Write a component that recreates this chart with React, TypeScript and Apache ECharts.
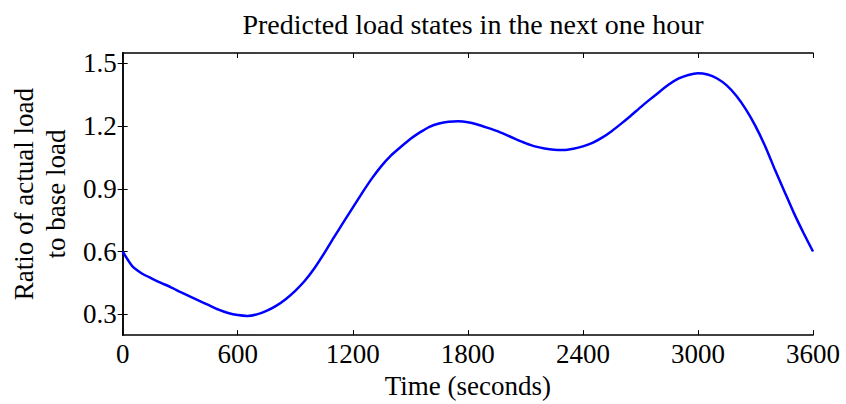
import React, { useEffect, useRef } from "react";
import * as echarts from "echarts";

const times: number[] = [
  0, 50, 100, 150, 200, 250, 300, 350, 400, 450, 500, 550, 600, 650, 700, 750,
  800, 850, 900, 950, 1000, 1050, 1100, 1150, 1200, 1250, 1300, 1350, 1400,
  1450, 1500, 1550, 1600, 1650, 1700, 1750, 1800, 1850, 1900, 1950, 2000, 2050,
  2100, 2150, 2200, 2250, 2300, 2350, 2400, 2450, 2500, 2550, 2600, 2650, 2700,
  2750, 2800, 2850, 2900, 2950, 3000, 3050, 3100, 3150, 3200, 3250, 3300, 3350,
  3400, 3450, 3500, 3550, 3600,
];

const loadRatio: number[] = [
  0.6, 0.53, 0.495, 0.472, 0.45, 0.43, 0.407, 0.385, 0.364, 0.343, 0.322, 0.306,
  0.296, 0.292, 0.299, 0.316, 0.34, 0.372, 0.412, 0.46, 0.52, 0.59, 0.665, 0.738,
  0.81, 0.882, 0.95, 1.01, 1.06, 1.1, 1.138, 1.17, 1.197, 1.213, 1.221, 1.223,
  1.219, 1.208, 1.193, 1.177, 1.158, 1.138, 1.119, 1.103, 1.093, 1.087, 1.086,
  1.092, 1.103, 1.12, 1.145, 1.176, 1.212, 1.25, 1.29, 1.328, 1.365, 1.4,
  1.428, 1.445, 1.453, 1.447, 1.428, 1.395, 1.345, 1.28, 1.2, 1.105, 0.995,
  0.89, 0.785, 0.69, 0.6,
];

const yTicks: number[] = [0.3, 0.6, 0.9, 1.2, 1.5];
const titleText = "Predicted load states in the next one hour";
const xName = "Time (seconds)";
const yName = "Ratio of actual load\nto base load";

const FONT = "'Liberation Serif', 'Times New Roman', serif";

export default function App() {
  const ref = useRef<HTMLDivElement>(null);

  useEffect(() => {
    if (!ref.current) return;
    const chart = echarts.init(ref.current, undefined, { renderer: "svg" });
    const axisLine = { show: true, lineStyle: { color: "#000", width: 1.5 } };
    const tick = { show: true, inside: true, length: 5, lineStyle: { color: "#000", width: 1 } };
    chart.setOption({
      animation: false,
      backgroundColor: "#fff",
      textStyle: { fontFamily: FONT },
      title: {
        text: titleText,
        left: 468,
        textAlign: "center",
        top: 5,
        textStyle: { fontFamily: FONT, fontSize: 28, fontWeight: "normal", color: "#000" },
      },
      grid: { left: 122, right: 33, top: 53, bottom: 65, containLabel: false },
      xAxis: [
        {
          type: "value",
          min: 0,
          max: 3600,
          interval: 600,
          position: "bottom",
          axisLine,
          axisTick: tick,
          splitLine: { show: false },
          axisLabel: {
            fontFamily: FONT,
            fontSize: 27,
            color: "#000",
            margin: 5,
            formatter: (v: number) => String(v),
          },
          name: xName,
          nameLocation: "middle",
          nameGap: 33,
          nameTextStyle: { fontFamily: FONT, fontSize: 27, color: "#000" },
        },
        {
          type: "value",
          min: 0,
          max: 3600,
          interval: 600,
          position: "top",
          axisLine,
          axisTick: tick,
          splitLine: { show: false },
          axisLabel: { show: false },
        },
      ],
      yAxis: [
        {
          type: "value",
          min: 0.2,
          max: 1.55,
          position: "left",
          axisLine,
          axisTick: { ...tick, customValues: yTicks },
          splitLine: { show: false },
          axisLabel: {
            customValues: yTicks,
            fontFamily: FONT,
            fontSize: 27,
            color: "#000",
            margin: 6,
            formatter: (v: number) => v.toFixed(1),
          },
          name: yName,
          nameLocation: "middle",
          nameGap: 50,
          nameRotate: 90,
          nameTextStyle: { fontFamily: FONT, fontSize: 27, color: "#000", lineHeight: 32 },
        },
        {
          type: "value",
          min: 0.2,
          max: 1.55,
          position: "right",
          axisLine,
          axisTick: { ...tick, customValues: yTicks },
          splitLine: { show: false },
          axisLabel: { show: false },
        },
      ],
      series: [
        {
          type: "line",
          xAxisIndex: 0,
          yAxisIndex: 0,
          data: times.map((t, i) => [t, loadRatio[i]]),
          showSymbol: false,
          smooth: 0.2,
          lineStyle: { color: "#0000ff", width: 2.5 },
        },
      ],
    });
    return () => chart.dispose();
  }, []);

  return (
    <div
      ref={ref}
      style={{ position: "fixed", left: 0, top: 0, width: 846, height: 404 }}
    />
  );
}
